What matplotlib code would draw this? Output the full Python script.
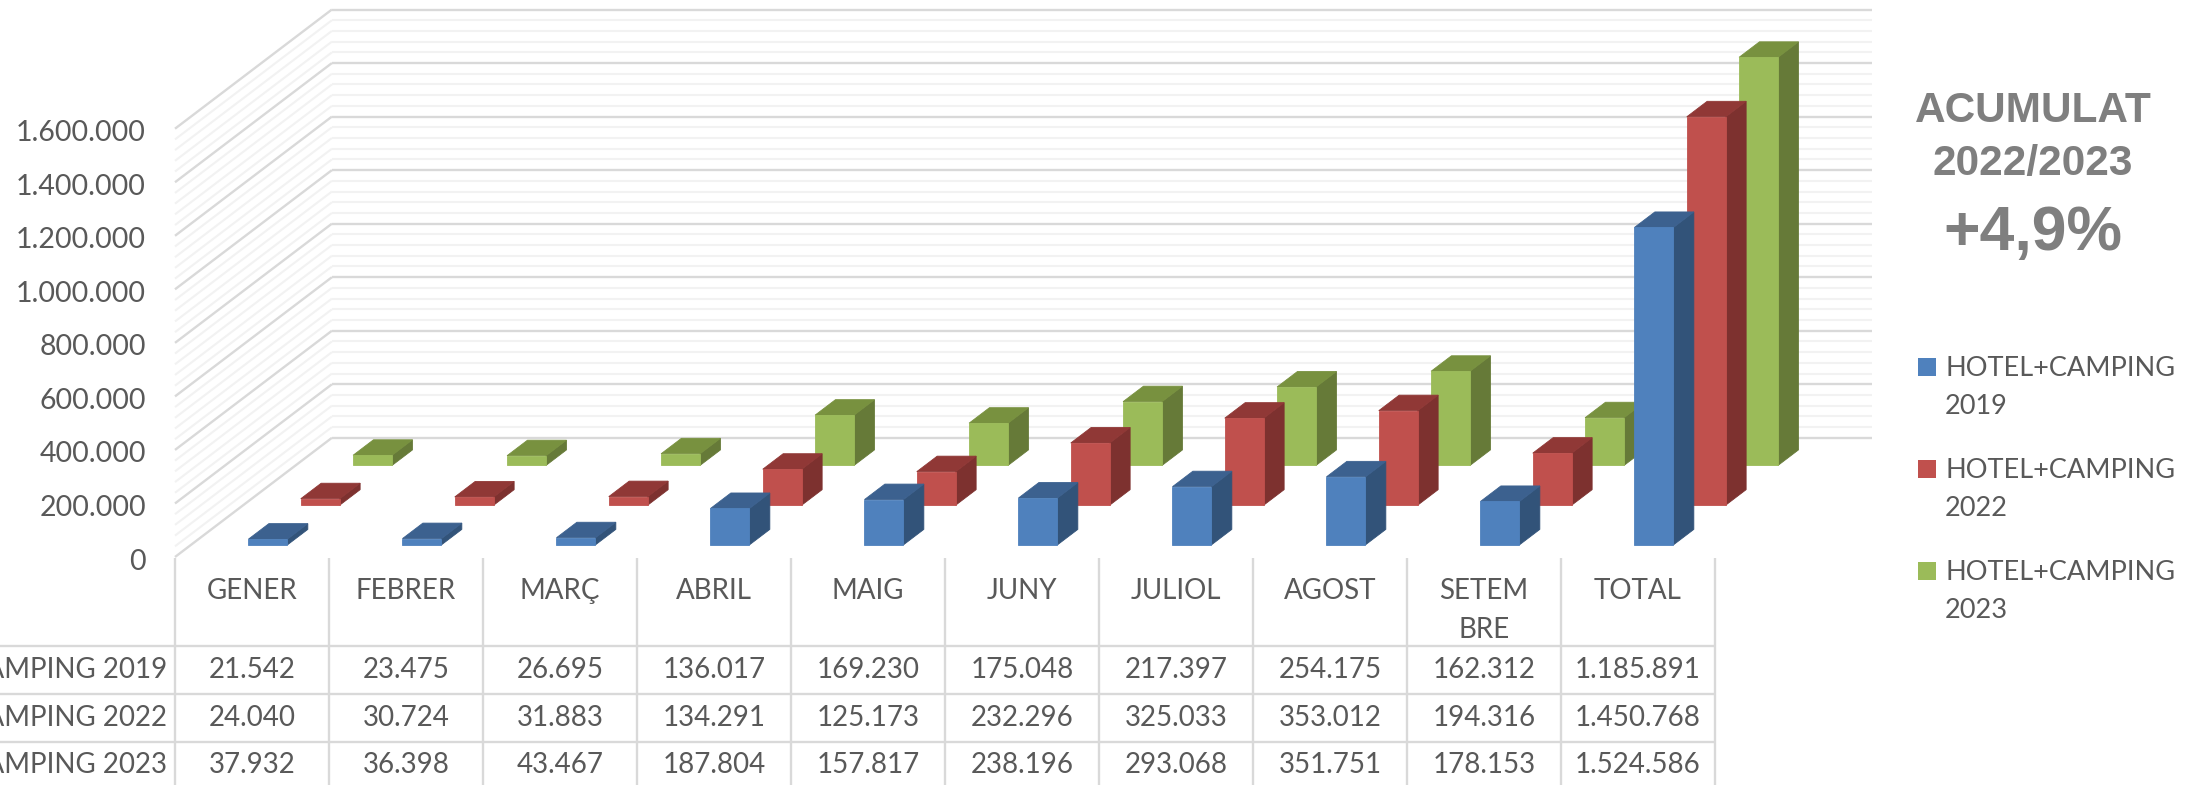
import matplotlib
matplotlib.use('Agg')
import matplotlib.pyplot as plt
from matplotlib.patches import Polygon, Rectangle
from matplotlib.transforms import ScaledTranslation

plt.rcParams['font.family'] = ['Lato', 'DejaVu Sans']

months = ['GENER', 'FEBRER', 'MARÇ', 'ABRIL', 'MAIG', 'JUNY', 'JULIOL', 'AGOST', 'SETEM\nBRE', 'TOTAL']
hc_2019 = [21542, 23475, 26695, 136017, 169230, 175048, 217397, 254175, 162312, 1185891]
hc_2022 = [24040, 30724, 31883, 134291, 125173, 232296, 325033, 353012, 194316, 1450768]
hc_2023 = [37932, 36398, 43467, 187804, 157817, 238196, 293068, 351751, 178153, 1524586]
series_names = ['HOTEL+CAMPING 2019', 'HOTEL+CAMPING 2022', 'HOTEL+CAMPING 2023']
y_ticks = [0, 200000, 400000, 600000, 800000, 1000000, 1200000, 1400000, 1600000]

front_cols = ['#4F81BD', '#C0504D', '#9BBB59']
top_cols = ['#3C618F', '#903836', '#78913F']
side_cols = ['#325379', '#7D312F', '#667A38']
grey_txt = '#595959'
major_col = '#D9D9D9'
minor_col = '#F2F2F2'

W, H = 2200, 785
# one depth slot on screen, in category units and value units
DX = 52.3 / 154
DY = 39.7 / 53.5 * 200000


def proj(x, v, d):
    return x + DX * d, v + DY * d


def face(ax, pts, col, z):
    xy = [proj(*p) for p in pts]
    ax.add_patch(Polygon(xy, closed=True, fc=col, ec=col, lw=0.6, zorder=z, clip_on=False))


def draw_bar(ax, cat, val, slot, j, z):
    w = 0.253
    x0 = cat + 0.5 - w / 2
    x1 = x0 + w
    d0 = slot + 0.305
    d1 = slot + 0.695
    face(ax, [(x1, 0, d0), (x1, 0, d1), (x1, val, d1), (x1, val, d0)], side_cols[j], z)
    face(ax, [(x0, val, d0), (x1, val, d0), (x1, val, d1), (x0, val, d1)], top_cols[j], z)
    face(ax, [(x0, 0, d0), (x1, 0, d0), (x1, val, d0), (x0, val, d0)], front_cols[j], z + 0.05)


fig = plt.figure(figsize=(22, 7.85), dpi=100, facecolor='white')
ax = fig.add_axes([175 / W, (H - 557) / H, 1540 / W, 428.3 / H])
ax.set_xlim(0, 10)
ax.set_ylim(0, 1600000)
ax.patch.set_alpha(0)
for s in ax.spines.values():
    s.set_visible(False)
ax.set_xticks([])
ax.set_yticks(y_ticks)
ax.set_yticklabels([f'{v:,}'.replace(',', '.') for v in y_ticks], fontsize=20.5, color=grey_txt)
ax.tick_params(axis='y', length=0, pad=21)
# labels sit a touch lower than the tick centre
for lab in ax.get_yticklabels():
    lab.set_transform(lab.get_transform() + ScaledTranslation(0, -2 / 100, fig.dpi_scale_trans))

# walls, minor lines first so the major ones sit on top
for v in range(0, 1600001, 40000):
    major = v % 200000 == 0
    col = major_col if major else minor_col
    lw = 1.7 if major else 1.5
    z = 2 if major else 1
    ax.plot(*zip(proj(0, v, 0), proj(0, v, 3)), color=col, lw=lw, zorder=z, clip_on=False,
            solid_capstyle='butt')
    ax.plot(*zip(proj(0, v, 3), proj(10, v, 3)), color=col, lw=lw, zorder=z, clip_on=False,
            solid_capstyle='butt')

# back row first
for j, vals in reversed(list(enumerate([hc_2019, hc_2022, hc_2023]))):
    for i, val in enumerate(vals):
        draw_bar(ax, i, val, j, j, 10 + (2 - j) * 3 + i * 0.1)

# table, legend and the note work in picture pixels
ov = fig.add_axes([0, 0, 1, 1])
ov.set_xlim(0, W)
ov.set_ylim(H, 0)
ov.axis('off')
ov.patch.set_alpha(0)

cell_w = 154
left = 175
for i in range(len(months) + 1):
    ov.plot([left + i * cell_w] * 2, [558, H], color=major_col, lw=1.7, solid_capstyle='butt')
for yy in [646, 694, 741.7]:
    ov.plot([0, left + len(months) * cell_w], [yy, yy], color=major_col, lw=1.7, solid_capstyle='butt')

for i, m in enumerate(months):
    cx = left + (i + 0.5) * cell_w
    for k, part in enumerate(m.split('\n')):
        ov.text(cx, 591 + k * 39, part, ha='center', va='center', fontsize=20, color=grey_txt)

for r, (name, vals) in enumerate(zip(series_names, [hc_2019, hc_2022, hc_2023])):
    yy = 670 + r * 47.6
    ov.text(167, yy, name, ha='right', va='center', fontsize=20, color=grey_txt)
    for i, val in enumerate(vals):
        ov.text(left + (i + 0.5) * cell_w, yy, f'{val:,}'.replace(',', '.'), ha='center', va='center',
                fontsize=20, color=grey_txt)

for j, name in enumerate(series_names):
    yy = 367 + j * 102
    ov.add_patch(Rectangle((1918, yy - 9), 18, 18, fc=front_cols[j], ec='none'))
    first, second = name.rsplit(' ', 1)
    ov.text(1945, yy + 1, first, ha='left', va='center', fontsize=19.5, color=grey_txt)
    ov.text(1945, yy + 40, second, ha='left', va='center', fontsize=19.5, color=grey_txt)

note_col = '#7F7F7F'
note_font = ['Liberation Sans', 'DejaVu Sans']
ov.text(2033, 111, 'ACUMULAT', ha='center', va='center', fontsize=30.5, fontweight='bold',
        color=note_col, family=note_font)
ov.text(2033, 164, '2022/2023', ha='center', va='center', fontsize=30.5, fontweight='bold',
        color=note_col, family=note_font)
ov.text(2033, 234, '+4,9%', ha='center', va='center', fontsize=45, fontweight='bold',
        color=note_col, family=note_font)

fig.savefig('out.png', dpi=100)
